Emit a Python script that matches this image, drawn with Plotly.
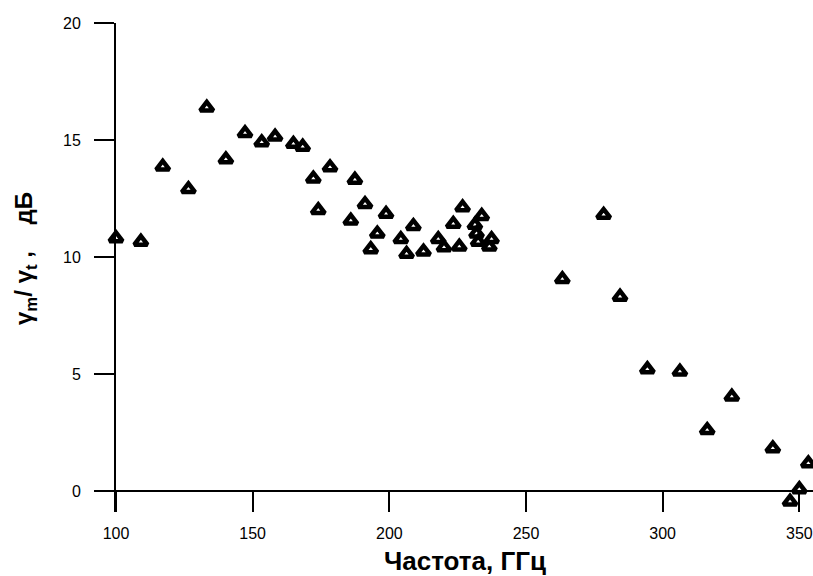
import plotly.graph_objects as go

freq = [100.0, 109.1, 117.1, 126.5, 133.2, 140.2, 147.2, 153.3, 158.2, 164.9,
        168.3, 172.2, 174.0, 178.3, 185.9, 187.4, 191.1, 193.2, 195.6, 198.8,
        204.2, 206.3, 208.8, 212.5, 217.9, 220.0, 223.4, 225.6, 226.8, 231.3,
        231.9, 232.5, 233.8, 236.6, 237.4, 263.3, 278.4, 284.4, 294.4, 306.3,
        316.3, 325.3, 340.3, 346.6, 350.0, 353.3]
ratio_db = [10.8, 10.65, 13.86, 12.9, 16.38, 14.17, 15.29, 14.9, 15.14, 14.83,
            14.71, 13.35, 12.0, 13.83, 11.55, 13.3, 12.26, 10.33, 11.0, 11.84,
            10.76, 10.13, 11.32, 10.23, 10.76, 10.41, 11.41, 10.44, 12.12, 11.37,
            11.0, 10.65, 11.75, 10.44, 10.76, 9.05, 11.8, 8.3, 5.2, 5.1,
            2.6, 4.03, 1.82, -0.46, 0.07, 1.18]

x_ticks = [100, 150, 200, 250, 300, 350]
y_ticks = [0, 5, 10, 15, 20]

Y_MIN, Y_MAX = -0.9, 20
fig = go.Figure()
fig.add_trace(go.Scatter(
    x=freq, y=ratio_db, mode="markers", cliponaxis=False,
    marker=dict(symbol="triangle-up", size=11.5, color="white",
                line=dict(color="black", width=4.5)),
    showlegend=False,
))

tickfont = dict(family="Liberation Sans", size=16, color="black")
fig.update_layout(
    width=813, height=576,
    margin=dict(l=116, r=0, t=23, b=64),
    paper_bgcolor="white", plot_bgcolor="white",
    xaxis=dict(range=[100, 355], tickvals=x_ticks, showgrid=False, zeroline=False,
               showline=True, linecolor="black", linewidth=2, automargin=False,
               anchor="free", position=(0 - Y_MIN) / (Y_MAX - Y_MIN),
               ticks="outside", ticklen=20, tickwidth=2, tickcolor="black",
               ticklabelstandoff=8, tickfont=tickfont),
    yaxis=dict(range=[Y_MIN, Y_MAX], tickvals=y_ticks, showgrid=False, zeroline=False,
               showline=True, linecolor="black", linewidth=2, automargin=False,
               ticks="outside", ticklen=20, tickwidth=2, tickcolor="black",
               ticklabelstandoff=10, tickfont=tickfont),
    annotations=[
        dict(text="<b>Частота, ГГц</b>", xref="paper", yref="paper", x=0.5, y=-0.1002,
             xanchor="center", yanchor="middle", showarrow=False,
             font=dict(family="Liberation Sans", size=26, color="black")),
        dict(text="<b>γ<sub>m</sub>/ γ<sub>t</sub> ,&nbsp;&nbsp;&nbsp; дБ</b>", xref="paper", yref="paper",
             x=-0.1306, y=0.5194, xanchor="center", yanchor="middle", textangle=-90,
             showarrow=False,
             font=dict(family="Liberation Sans", size=24, color="black")),
    ],
)

fig.write_html("out.html", config={"displayModeBar": False},
               post_script="document.body.style.margin='0';")
